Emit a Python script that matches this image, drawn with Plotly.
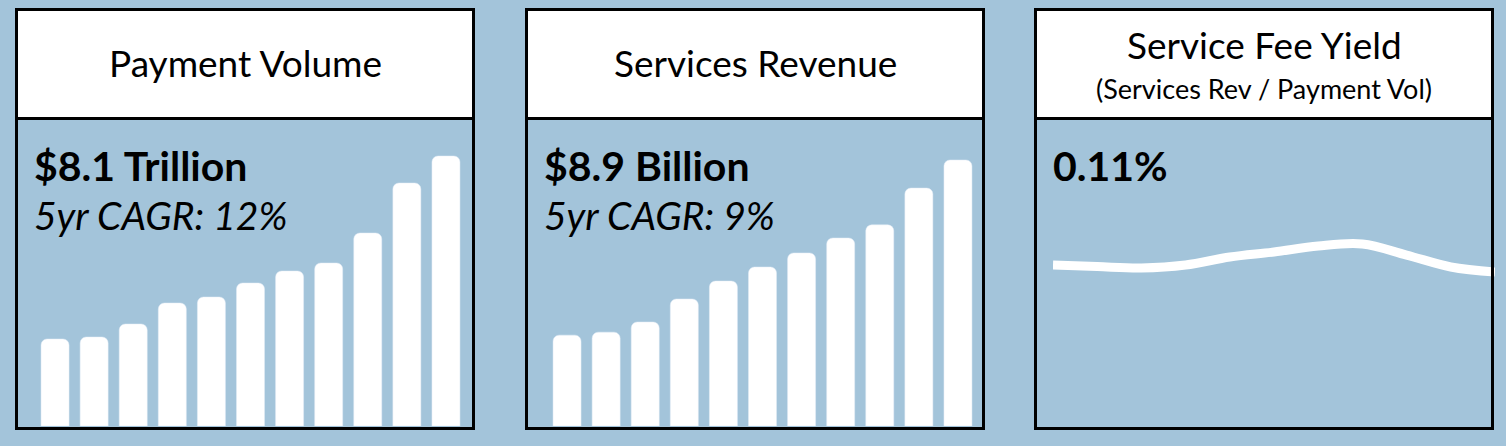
import plotly.graph_objects as go

# yearly values
payment_volume_tn = [2.61, 2.67, 3.06, 3.69, 3.87, 4.29, 4.65, 4.89, 5.79, 7.29, 8.10]
services_revenue_bn = [3.04, 3.14, 3.48, 4.25, 4.85, 5.32, 5.79, 6.29, 6.73, 7.96, 8.90]
fee_yield_pct = [0.1150, 0.1139, 0.1129, 0.1150, 0.1207, 0.1243, 0.1286, 0.1300, 0.1221, 0.1136, 0.1100]
periods = list(range(len(payment_volume_tn)))

panel_titles = ["Payment Volume", "Services Revenue", "Service Fee Yield"]
yield_subtitle = "(Services Rev / Payment Vol)"
headline = ["$8.1 Trillion", "$8.9 Billion", "0.11%"]
cagr_text = ["5yr CAGR: 12%", "5yr CAGR: 9%"]

W, H = 1506, 446
BG = "#A3C4DA"
FONT = "Lato"


def px(x):
    return x / W


def py(y):
    return 1 - y / H


# panel geometry in screen pixels
panel_left = [15, 525, 1034]
panel_w = 460
top, divider, bottom = 8, 118.5, 430
body_top, base = 118, 426

fig = go.Figure()
bar_color = "white"
fig.add_trace(go.Bar(x=periods, y=payment_volume_tn, marker=dict(color=bar_color, cornerradius=6),
                     xaxis="x", yaxis="y", hoverinfo="skip"))
fig.add_trace(go.Bar(x=periods, y=services_revenue_bn, marker=dict(color=bar_color, cornerradius=6),
                     xaxis="x2", yaxis="y2", hoverinfo="skip"))
fig.add_trace(go.Scatter(x=periods, y=fee_yield_pct, mode="lines",
                         line=dict(color="white", width=9, shape="spline", smoothing=1.0),
                         xaxis="x3", yaxis="y3", hoverinfo="skip"))

axis_off = dict(visible=False, showgrid=False, zeroline=False, fixedrange=True)
ydom = [py(base), py(body_top)]
fig.update_layout(
    xaxis=dict(domain=[px(35.5), px(465.5)], range=[-0.5, 10.5], anchor="y", **axis_off),
    yaxis=dict(domain=ydom, range=[0, 9.24], anchor="x", **axis_off),
    xaxis2=dict(domain=[px(547.5), px(977.5)], range=[-0.5, 10.5], anchor="y2", **axis_off),
    yaxis2=dict(domain=ydom, range=[0, 10.305], anchor="x2", **axis_off),
    xaxis3=dict(domain=[px(1053), px(1495)], range=[0, 10], anchor="y3", **axis_off),
    yaxis3=dict(domain=ydom, range=[0, 0.22], anchor="x3", **axis_off),
)

shapes = []
annotations = []
for i, left in enumerate(panel_left):
    x0, x1 = left + 1.5, left + panel_w - 1.5
    # white header
    shapes.append(dict(type="rect", xref="paper", yref="paper", layer="below",
                       x0=px(x0), x1=px(x1), y0=py(divider), y1=py(top + 1.5),
                       fillcolor="white", line=dict(width=0)))
    # outer frame and divider
    shapes.append(dict(type="rect", xref="paper", yref="paper", layer="above",
                       x0=px(x0), x1=px(x1), y0=py(bottom - 1.5), y1=py(top + 1.5),
                       line=dict(color="black", width=3)))
    shapes.append(dict(type="line", xref="paper", yref="paper", layer="above",
                       x0=px(x0), x1=px(x1), y0=py(divider), y1=py(divider),
                       line=dict(color="black", width=3)))
    cx = left + panel_w / 2
    if i < 2:
        annotations.append(dict(text=panel_titles[i], x=px(cx), y=py(63), xanchor="center",
                                yanchor="middle", font=dict(size=37, color="black")))
    else:
        annotations.append(dict(text=panel_titles[i], x=px(cx), y=py(45), xanchor="center",
                                yanchor="middle", font=dict(size=37, color="black")))
        annotations.append(dict(text=yield_subtitle, x=px(cx), y=py(88), xanchor="center",
                                yanchor="middle", font=dict(size=27, color="black")))
    annotations.append(dict(text="<b>" + headline[i] + "</b>", x=px(left + 17), y=py(166),
                            xanchor="left", yanchor="middle", font=dict(size=41, color="black")))
    if i < 2:
        annotations.append(dict(text="<i>" + cagr_text[i] + "</i>", x=px(left + 17), y=py(215),
                                xanchor="left", yanchor="middle", font=dict(size=39, color="black")))

for a in annotations:
    a.update(xref="paper", yref="paper", showarrow=False)

fig.update_layout(
    width=W, height=H,
    margin=dict(l=0, r=0, t=0, b=0),
    paper_bgcolor=BG, plot_bgcolor=BG,
    font=dict(family=FONT, color="black"),
    bargap=0.284,
    showlegend=False,
    shapes=shapes,
    annotations=annotations,
)

# drop the default page margin so the figure sits at the window's top-left corner
fig.write_html("out.html", config={"displayModeBar": False},
               post_script="document.body.style.margin='0';")
